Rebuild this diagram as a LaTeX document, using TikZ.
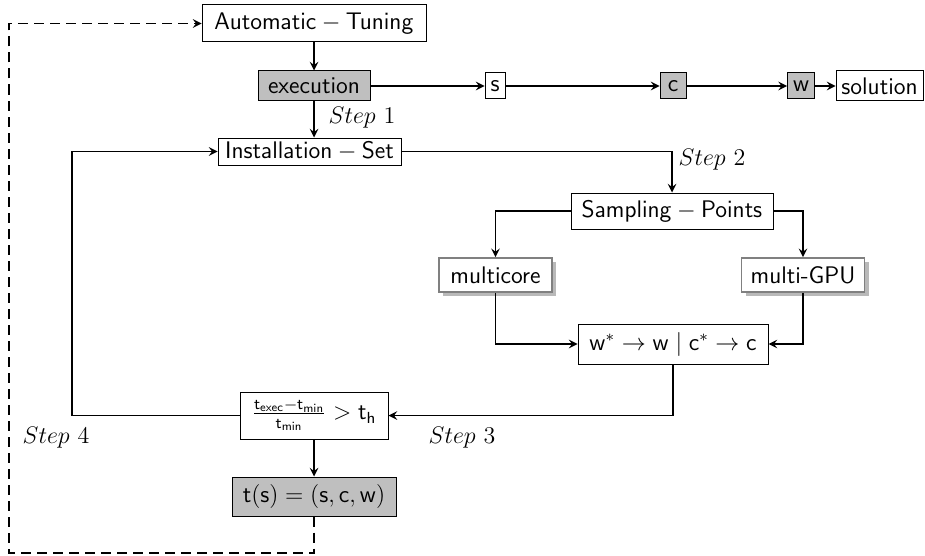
\documentclass[tikz,border=0pt]{standalone}
\usetikzlibrary{positioning,shadows,arrows}

\begin{document}
\begin{tikzpicture}[x=0.5pt, y=-0.5pt, >=stealth,
  every node/.style={align=center, font=\sffamily\fontsize{12}{14}\selectfont},
  box/.style={rectangle, draw, line width=0.5pt, fill=white, inner sep=2pt},
  grey box/.style={box, fill=gray!50},
  shadow box/.style={box, draw=gray, thick, drop shadow={shadow xshift=2pt, shadow yshift=-2pt, fill=gray!55, opacity=1}},
  flow/.style={->, line width=0.9pt},
  feedback/.style={->, line width=0.9pt, dash pattern=on 5pt off 3pt}]

\useasboundingbox (0,0) rectangle (925,556);

% Main tuning flow
\node (auto) [box, minimum width=112pt, minimum height=18.5pt] at (314,23.5) {$\mathsf{Automatic-Tuning}$};
\node (exec) [grey box, minimum width=56pt, minimum height=15pt] at (314,86) {execution};
\node (inst) [box, minimum width=91.5pt, minimum height=13.5pt] at (309.5,151.5) {$\mathsf{Installation-Set}$};
\node (frac) [box, minimum width=74pt, minimum height=23.5pt] at (314,415.5) {$\frac{\mathsf{t_{exec}}-\mathsf{t_{min}}}{\mathsf{t_{min}}} > \mathsf{t_h}$};
\node (ts) [grey box, minimum width=82pt, minimum height=19.5pt] at (314,496.5) {$\mathsf{t(s)}=(\mathsf{s},\mathsf{c},\mathsf{w})$};

% Solution row
\node (s) [box, minimum width=10pt, minimum height=13pt] at (495,86) {s};
\node (c) [grey box, minimum width=13pt, minimum height=13pt] at (673,86) {c};
\node (w) [grey box, minimum width=13.5pt, minimum height=13pt] at (801,86) {w};
\node (sol) [box, minimum width=43.5pt, minimum height=15pt] at (879.5,86) {solution};

% Sampling part
\node (samp) [box, minimum width=101pt, minimum height=18pt] at (672,211) {$\mathsf{Sampling-Points}$};
\node (mcore) [shadow box, minimum width=56.5pt, minimum height=17pt] at (495.5,275) {multicore};
\node (mgpu) [shadow box, minimum width=61.5pt, minimum height=17pt] at (803,275) {multi-GPU};
\node (wc) [box, minimum width=95pt, minimum height=20pt] at (673,344) {$\mathsf{w}^*\to\mathsf{w}\mid\mathsf{c}^*\to\mathsf{c}$};

% Step labels
\node (step1) at (362,118) {$Step~1$};
\node (step2) at (712,160) {$Step~2$};
\node (step3) at (462,438) {$Step~3$};
\node (step4) at (56,438) {$Step~4$};

% Corners of the loops
\coordinate (back) at (72,151.5);
\coordinate (low) at (9,553);

% Arrows
\draw[flow] (auto) -- (exec);
\draw[flow] (exec) -- (exec |- inst.north);
\draw[flow] (exec) -- (s);
\draw[flow] (s) -- (c);
\draw[flow] (c) -- (w);
\draw[flow] (w) -- (sol);
\draw[flow] (inst.east) -| (samp.north);
\draw[flow] (samp.west) -| (mcore.north);
\draw[flow] (samp.east) -| (mgpu.north);
\draw[flow] (mcore.south) |- (wc.west);
\draw[flow] (mgpu.south) |- (wc.east);
\draw[flow] (wc.south) |- (frac.east);
\draw[flow] (frac.west) -| (back) -- (inst.west);
\draw[flow] (frac) -- (ts);
\draw[feedback] (ts.south) |- (low) |- (auto.west);

\end{tikzpicture}
\end{document}
